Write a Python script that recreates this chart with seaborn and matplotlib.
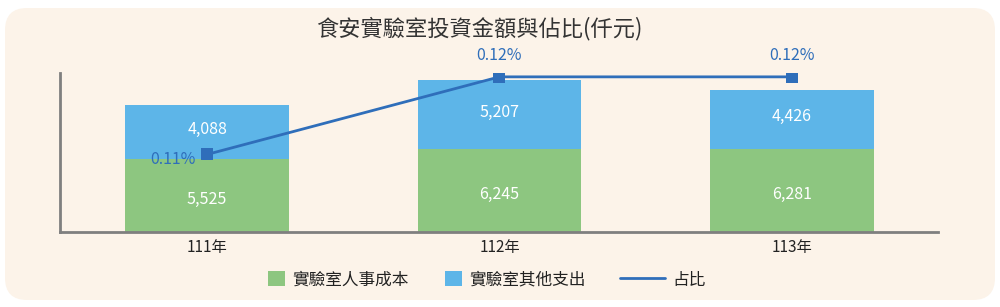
import matplotlib
matplotlib.use("Agg")
import matplotlib.pyplot as plt
import seaborn as sns
import pandas as pd
from matplotlib.patches import FancyBboxPatch, Patch
from matplotlib.lines import Line2D
from matplotlib.transforms import IdentityTransform

years = ["111年", "112年", "113年"]
personnel = [5525, 6245, 6281]
other = [4088, 5207, 4426]
ratio = [0.11, 0.12, 0.12]
ratio_labels = ["0.11%", "0.12%", "0.12%"]
legend_labels = ["實驗室人事成本", "實驗室其他支出", "占比"]

GREEN = "#8DC680"
BLUE = "#5DB5E8"
LINE = "#2F6EBA"
BG = "#FCF3E9"

sns.set_style("white")
plt.rcParams['font.family'] = ['Noto Sans CJK TC', 'DejaVu Sans']

fig = plt.figure(figsize=(10, 3.07), dpi=100)
fig.patch.set_facecolor("white")
bg = FancyBboxPatch((5, 7), 990, 292, boxstyle="round,pad=0,rounding_size=22",
                    transform=IdentityTransform(), facecolor=BG, edgecolor="none", zorder=-10)
fig.patches.append(bg)

ax = fig.add_axes([0.06, 0.2443, 0.878, 0.518])
ax.set_facecolor("none")

df = pd.DataFrame({"year": years, "personnel": personnel, "other": other,
                   "total": [p + o for p, o in zip(personnel, other)], "x": [0, 1, 2]})

sns.barplot(data=df, x="year", y="total", color=BLUE, width=0.56, ax=ax,
            saturation=1, edgecolor="none", linewidth=0)
sns.barplot(data=df, x="year", y="personnel", color=GREEN, width=0.56, ax=ax,
            saturation=1, edgecolor="none", linewidth=0)

for i in range(3):
    ax.text(i, personnel[i] / 2 - 300, f"{personnel[i]:,}", ha="center", va="center",
            color="white", fontsize=11.5)
    ax.text(i, personnel[i] + other[i] / 2 + 200, f"{other[i]:,}", ha="center", va="center",
            color="white", fontsize=11.5)

ax.set_xlim(-0.503, 2.5)
ax.set_ylim(0, 12000)
ax.set_xlabel("")
ax.set_ylabel("")
ax.set_yticks([])
ax.tick_params(axis="x", length=0, labelsize=11, colors="#222222", pad=5)
for s in ["top", "right"]:
    ax.spines[s].set_visible(False)
for s in ["left", "bottom"]:
    ax.spines[s].set_color("#7F7F7F")
    ax.spines[s].set_linewidth(2)

ax2 = ax.twinx()
sns.lineplot(x=df["x"], y=ratio, ax=ax2, color=LINE, linewidth=2, marker="s",
             markersize=9, markeredgewidth=0)
ax2.set_ylim(0.10, 0.1205)
ax2.set_xlim(-0.503, 2.5)
ax2.axis("off")
offsets = [(-0.04, -0.0006, "right"), (0, 0.0028, "center"), (0, 0.0028, "center")]
for i in range(3):
    dx, dy, ha = offsets[i]
    ax2.text(i + dx, ratio[i] + dy, ratio_labels[i], ha=ha, va="center",
             color=LINE, fontsize=11.5)

fig.text(0.479, 0.907, "食安實驗室投資金額與佔比(仟元)", ha="center", va="center",
         fontsize=16, color="#333333")

handles = [Patch(facecolor=GREEN, edgecolor="none"),
           Patch(facecolor=BLUE, edgecolor="none"),
           Line2D([0], [0], color=LINE, linewidth=2)]
starts = [0.268, 0.445, 0.620]
hlens = [1.0, 1.0, 2.7]
for h, lab, x0, hl in zip(handles, legend_labels, starts, hlens):
    fig.legend([h], [lab], loc="center left", bbox_to_anchor=(x0, 0.088),
               frameon=False, fontsize=12, handlelength=hl, handleheight=1.0,
               handletextpad=0.45, borderpad=0, borderaxespad=0,
               labelcolor="#222222")

fig.savefig("out.png", dpi=100, facecolor="white")
